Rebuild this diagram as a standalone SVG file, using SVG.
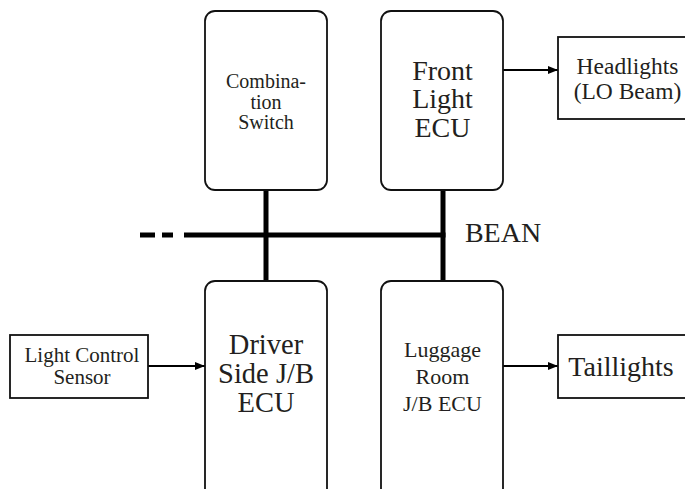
<svg xmlns="http://www.w3.org/2000/svg" width="685" height="489" viewBox="0 0 685 489">
<style>
.box{fill:#fff;stroke:#111;stroke-width:1.8}
.bus{stroke:#000;stroke-width:5;fill:none}
.arr{stroke:#000;stroke-width:2;fill:none;marker-end:url(#ah)}
text{font-family:"Liberation Serif","Times New Roman",serif;fill:#231f20;text-anchor:middle}
</style>
<defs>
<marker id="ah" viewBox="0 0 10 8" refX="10" refY="4" markerWidth="10" markerHeight="8" markerUnits="userSpaceOnUse" orient="auto">
<path d="M0,0 L10,4 L0,8 Z" fill="#000"/>
</marker>
</defs>
<g id="connectors">
<line class="bus" x1="266" y1="190" x2="266" y2="281"/>
<line class="bus" x1="443" y1="190" x2="443" y2="281"/>
<line class="bus" x1="184" y1="235" x2="445.5" y2="235"/>
<line class="bus" x1="140" y1="235" x2="155" y2="235"/>
<line class="bus" x1="162" y1="235" x2="173" y2="235"/>
<line class="arr" x1="503" y1="70" x2="558" y2="70"/>
<line class="arr" x1="148" y1="366" x2="205" y2="366"/>
<line class="arr" x1="503" y1="366" x2="558" y2="366"/>
</g>
<g id="combination-switch">
<rect class="box" x="205" y="11" width="122" height="179" rx="10"/>
<text font-size="20"><tspan x="266" y="88">Combina-</tspan><tspan x="266" y="108.5">tion</tspan><tspan x="266" y="129">Switch</tspan></text>
</g>
<g id="front-light-ecu">
<rect class="box" x="381" y="11" width="122" height="179" rx="10"/>
<text font-size="28"><tspan x="442.5" y="79.5">Front</tspan><tspan x="442.5" y="108">Light</tspan><tspan x="442.5" y="136.5">ECU</tspan></text>
</g>
<g id="headlights">
<rect class="box" x="558" y="37" width="130" height="82"/>
<text font-size="23.5"><tspan x="627.5" y="73.5">Headlights</tspan><tspan x="627.5" y="98.5">(LO Beam)</tspan></text>
</g>
<g id="bean-label">
<text x="503" y="241.5" font-size="28">BEAN</text>
</g>
<g id="light-control-sensor">
<rect class="box" x="10" y="335" width="138" height="63"/>
<text font-size="21"><tspan x="82" y="361.5">Light Control</tspan><tspan x="82" y="383.5">Sensor</tspan></text>
</g>
<g id="driver-side-jb-ecu">
<rect class="box" x="205" y="281" width="122" height="230" rx="10"/>
<text font-size="28.5"><tspan x="266" y="353.5">Driver</tspan><tspan x="266" y="383">Side J/B</tspan><tspan x="266" y="411.5">ECU</tspan></text>
</g>
<g id="luggage-room-jb-ecu">
<rect class="box" x="381" y="281" width="122" height="230" rx="10"/>
<text font-size="22"><tspan x="442.5" y="356.5">Luggage</tspan><tspan x="442.5" y="383.5">Room</tspan><tspan x="442.5" y="410.5">J/B ECU</tspan></text>
</g>
<g id="taillights">
<rect class="box" x="558" y="335" width="130" height="63"/>
<text x="621" y="376" font-size="28">Taillights</text>
</g>
</svg>
